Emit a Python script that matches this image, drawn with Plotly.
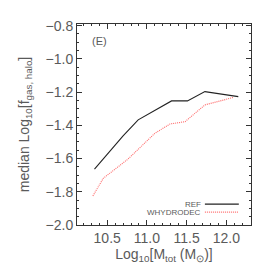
import plotly.graph_objects as go

ref_x = [10.34, 10.70, 10.89, 11.31, 11.51, 11.73, 12.15]
ref_y = [-1.664, -1.464, -1.367, -1.253, -1.253, -1.197, -1.227]
why_x = [10.32, 10.45, 10.76, 10.97, 11.10, 11.29, 11.48, 11.73, 12.09]
why_y = [-1.825, -1.719, -1.604, -1.508, -1.448, -1.392, -1.378, -1.277, -1.232]

x_ticks = [10.5, 11.0, 11.5, 12.0]
y_ticks = [-2.0, -1.8, -1.6, -1.4, -1.2, -1.0, -0.8]

legend_names = ["REF", "WHYDRODEC"]
legend_colors = ["#222222", "#ff6a6a"]

txt = "#5a5a5a"
axc = "#333333"
fam = "Liberation Sans, Arial, sans-serif"

fig = go.Figure()
fig.add_trace(go.Scatter(x=ref_x, y=ref_y, mode="lines", name=legend_names[0],
                         line=dict(color=legend_colors[0], width=1.1)))
fig.add_trace(go.Scatter(x=why_x, y=why_y, mode="lines", name=legend_names[1],
                         line=dict(color=legend_colors[1], width=1.1, dash="1px,1px")))

legend_y = [0.104, 0.064]
legend_dash = ["solid", "1px,1px"]
for name, col, dash, yp in zip(legend_names, legend_colors, legend_dash, legend_y):
    fig.add_annotation(x=0.725, y=yp, xref="paper", yref="paper", text=name,
                       showarrow=False, xanchor="right", yanchor="middle",
                       font=dict(family=fam, size=8, color=txt))
    fig.add_shape(type="line", xref="paper", yref="paper", x0=0.735, x1=0.93, y0=yp, y1=yp,
                  line=dict(color=col, width=1.1, dash=dash))

fig.add_annotation(x=0.075, y=0.915, xref="paper", yref="paper", text="(E)", showarrow=False,
                   xanchor="left", yanchor="middle",
                   font=dict(family=fam, size=11, color=txt))

fig.update_layout(
    width=274, height=274,
    margin=dict(l=77, r=23, t=24, b=49),
    paper_bgcolor="white", plot_bgcolor="white",
    showlegend=False,
    font=dict(family=fam, size=14, color=txt),
    xaxis=dict(range=[10.12, 12.31], tickvals=x_ticks, ticktext=[f"{v:.1f}" for v in x_ticks],
               ticks="inside", ticklen=5, tickcolor=axc, showline=True, linecolor=axc, linewidth=1,
               mirror="ticks", showgrid=False, zeroline=False, automargin=False,
               tickfont=dict(size=14, color=txt),
               minor=dict(dtick=0.1, ticks="inside", ticklen=2, tickcolor=axc, showgrid=False),
               title=dict(text="Log<sub>10</sub>[M<sub>tot</sub> (M<sub>⊙</sub>)]", standoff=2,
                          font=dict(size=14, color=txt))),
    yaxis=dict(range=[-2.0, -0.79], tickvals=y_ticks, ticktext=[f"−{abs(v):.1f}" for v in y_ticks],
               ticks="inside", ticklen=5, tickcolor=axc, showline=True, linecolor=axc, linewidth=1,
               mirror="ticks", showgrid=False, zeroline=False, automargin=False,
               tickfont=dict(size=14, color=txt),
               minor=dict(dtick=0.05, ticks="inside", ticklen=2, tickcolor=axc, showgrid=False),
               title=dict(text="median Log<sub>10</sub>[f<sub>gas, halo</sub>]", standoff=12,
                          font=dict(size=14, color=txt))),
)

fig.write_html("out.html", config={"displayModeBar": False},
               post_script="document.body.style.margin='0';document.body.style.padding='0';")
